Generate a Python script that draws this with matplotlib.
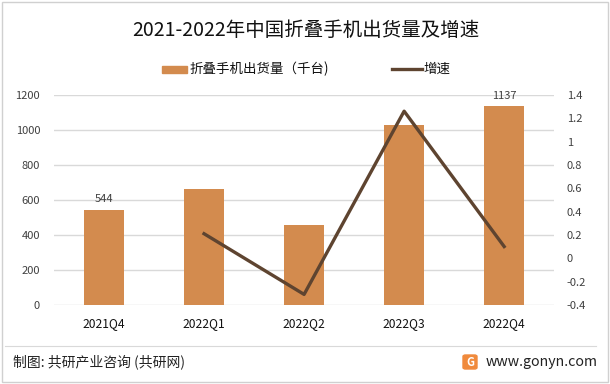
import matplotlib.pyplot as plt
from matplotlib.patches import Rectangle, FancyBboxPatch
from matplotlib.lines import Line2D

plt.rcParams['font.family'] = ['Noto Sans CJK SC', 'DejaVu Sans']

# 数据
quarters = ["2021Q4", "2022Q1", "2022Q2", "2022Q3", "2022Q4"]
shipments = [544, 660, 455, 1030, 1137]
growth_q = ["2022Q1", "2022Q2", "2022Q3", "2022Q4"]
growth = [0.21, -0.31, 1.26, 0.10]
labelled = {"2021Q4": 544, "2022Q4": 1137}

bar_color = "#D38B4E"
line_color = "#5E4430"
grid_color = "#D9D9D9"
text_color = "#404040"

fig = plt.figure(figsize=(6.1, 3.84), dpi=100)
fig.patch.set_facecolor("white")

ax = fig.add_axes([0.0885, 0.206, 0.82, 0.547])
x = list(range(len(quarters)))
ax.bar(x, shipments, width=0.4, color=bar_color, zorder=2)
ax.set_xlim(-0.5, len(quarters) - 0.5)
ax.set_ylim(0, 1200)
ax.set_yticks(range(0, 1201, 200))
ax.set_xticks(x)
ax.set_xticklabels(quarters)
ax.yaxis.grid(True, color=grid_color, linewidth=1, zorder=0)
ax.set_axisbelow(True)
for s in ax.spines.values():
    s.set_visible(False)
ax.tick_params(axis="both", length=0, labelsize=8, labelcolor=text_color)
ax.tick_params(axis="x", pad=9, labelsize=8.7, labelcolor="#111111")
ax.tick_params(axis="y", pad=10)

for q, v in labelled.items():
    i = quarters.index(q)
    ax.text(i, v + 30, str(v), ha="center", va="bottom", fontsize=8, color=text_color)

ax2 = ax.twinx()
gx = [quarters.index(q) for q in growth_q]
ax2.plot(gx, growth, color=line_color, linewidth=2.4, zorder=3)
ax2.set_ylim(-0.4, 1.4)
ax2.set_yticks([-0.4, -0.2, 0, 0.2, 0.4, 0.6, 0.8, 1, 1.2, 1.4])
ax2.set_yticklabels(["-0.4", "-0.2", "0", "0.2", "0.4", "0.6", "0.8", "1", "1.2", "1.4"])
for s in ax2.spines.values():
    s.set_visible(False)
ax2.tick_params(axis="y", length=0, labelsize=8, labelcolor=text_color, pad=9)

# 标题
fig.text(306 / 610, 1 - 30 / 384, "2021-2022年中国折叠手机出货量及增速", ha="center", va="center",
         fontsize=14, color="#111111")

# 图例
fig.patches.append(Rectangle((162 / 610, 1 - 73 / 384), 25 / 610, 7 / 384,
                             transform=fig.transFigure, color=bar_color))
fig.text(190 / 610, 1 - 69 / 384, "折叠手机出货量（千台)", va="center", fontsize=9.7, color="#111111")
fig.lines.append(Line2D([392 / 610, 422 / 610], [1 - 69 / 384, 1 - 69 / 384],
                        transform=fig.transFigure, color=line_color, linewidth=2.4))
fig.text(423 / 610, 1 - 69 / 384, "增速", va="center", fontsize=9.7, color="#111111")

# 底部
fig.lines.append(Line2D([5 / 610, 596 / 610], [1 - 346 / 384, 1 - 346 / 384],
                        transform=fig.transFigure, color="#D9D9D9", linewidth=0.8))
fig.text(13 / 610, 1 - 362 / 384, "制图: 共研产业咨询 (共研网)", va="center", fontsize=10, color="#222222")
fig.patches.append(FancyBboxPatch((463 / 610, 1 - 369 / 384), 14 / 610, 14 / 384,
                                  boxstyle="round,pad=0,rounding_size=0.004",
                                  transform=fig.transFigure, color="#F08A3C"))
fig.text(470 / 610, 1 - 362 / 384, "G", ha="center", va="center", fontsize=8,
         color="white", fontweight="bold")
fig.text(486 / 610, 1 - 362 / 384, "www.gonyn.com", va="center", fontsize=10.2, color="#222222")

# 外框
fig.patches.append(Rectangle((0.003, 0.004), 0.994, 0.992, transform=fig.transFigure,
                             fill=False, edgecolor="#D0D0D0", linewidth=1))

fig.savefig("out.png", dpi=100)
